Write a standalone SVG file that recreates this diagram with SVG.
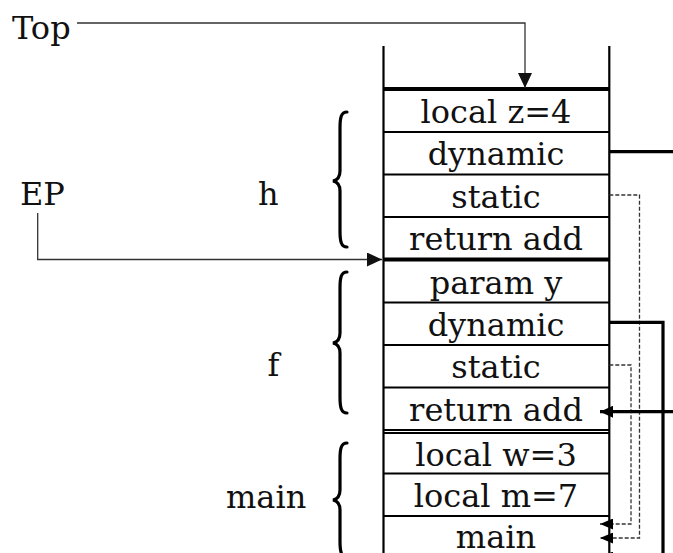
<svg xmlns="http://www.w3.org/2000/svg" width="673" height="553" viewBox="0 0 673 553">
<style>
text{font-family:"DejaVu Serif","Liberation Serif",serif;font-size:32px;fill:#111}
.cell{text-anchor:middle}
.col{stroke:#000;stroke-width:2.2;fill:none}
.thick{stroke:#000;stroke-width:3.8;fill:none}
.thin{stroke:#333;stroke-width:1.3;fill:none}
.dash{stroke:#333;stroke-width:1.3;fill:none;stroke-dasharray:4 2}
.ptr{stroke:#000;stroke-width:3.2;fill:none}
.brace{stroke:#000;stroke-width:3.2;fill:none;stroke-linecap:round}
</style>
<defs>
<marker id="aBig" markerUnits="userSpaceOnUse" markerWidth="16" markerHeight="14" refX="15" refY="7" orient="auto">
<path d="M0,0 L15,7 L0,14 Z" fill="#111"/>
</marker>
<marker id="aThick" markerUnits="userSpaceOnUse" markerWidth="14" markerHeight="12" refX="13" refY="6" orient="auto">
<path d="M0,0 L13,6 L0,12 Z" fill="#000"/>
</marker>
<marker id="aSmall" markerUnits="userSpaceOnUse" markerWidth="14" markerHeight="11" refX="13" refY="5.5" orient="auto">
<path d="M0,0 L13,5.5 L0,11 Z" fill="#000"/>
</marker>
</defs>

<g id="stack">
<line class="col" x1="383.5" y1="46" x2="383.5" y2="553"/>
<line class="col" x1="609.3" y1="46" x2="609.3" y2="553"/>
<line class="thick" x1="383.5" y1="89" x2="609.3" y2="89"/>
<line class="col" x1="383.5" y1="132" x2="609.3" y2="132"/>
<line class="col" x1="383.5" y1="174.5" x2="609.3" y2="174.5"/>
<line class="col" x1="383.5" y1="217" x2="609.3" y2="217"/>
<line class="thick" x1="383.5" y1="259.5" x2="609.3" y2="259.5"/>
<line class="col" x1="383.5" y1="302.5" x2="609.3" y2="302.5"/>
<line class="col" x1="383.5" y1="345" x2="609.3" y2="345"/>
<line class="col" x1="383.5" y1="387.5" x2="609.3" y2="387.5"/>
<line class="col" x1="383.5" y1="430" x2="609.3" y2="430" stroke-width="1.3"/>
<line class="col" x1="383.5" y1="433" x2="609.3" y2="433" stroke-width="1.3"/>
<line class="col" x1="383.5" y1="473.5" x2="609.3" y2="473.5"/>
<line class="col" x1="383.5" y1="516" x2="609.3" y2="516"/>
</g>

<g id="h-frame">
<text class="cell" x="496" y="122.5">local z=4</text>
<text class="cell" x="496" y="165">dynamic</text>
<text class="cell" x="496" y="208">static</text>
<text class="cell" x="496" y="250">return add</text>
</g>
<g id="f-frame">
<text class="cell" x="496" y="294">param y</text>
<text class="cell" x="496" y="335.5">dynamic</text>
<text class="cell" x="496" y="378">static</text>
<text class="cell" x="496" y="420.5">return add</text>
</g>
<g id="main-frame">
<text class="cell" x="496" y="465.5">local w=3</text>
<text class="cell" x="496" y="507">local m=7</text>
<text class="cell" x="496" y="548">main</text>
</g>

<g id="label-top"><text x="12" y="39">Top</text></g>
<g id="label-ep"><text x="20" y="205">EP</text></g>
<g id="label-h"><text x="258" y="205">h</text></g>
<g id="label-f"><text x="273.5" y="376" text-anchor="middle">f</text></g>
<g id="label-main"><text x="226" y="508">main</text></g>

<g id="braces">
<path class="brace" d="M347,112 C341,112 340,118 340,128 L340,171 C340,177 338,180 333,181 C338,182 340,185 340,191 L340,231 C340,241 341,247 347,247"/>
<path class="brace" d="M347,272 C341,272 340,278 340,288 L340,333 C340,339 338,342 333,343 C338,344 340,347 340,353 L340,397 C340,407 341,413 347,413"/>
<path class="brace" d="M347,443 C341,443 340,449 340,459 L340,490 C340,496 338,499 333,500 C338,501 340,504 340,510 L340,541 C340,551 341,557 347,557"/>
</g>

<g id="connectors">
<path class="thin" d="M77,23 H525 V88" marker-end="url(#aBig)"/>
<path class="thin" d="M37.7,213 V259.5 H382" marker-end="url(#aBig)"/>
<path class="ptr" d="M609.3,151.7 H673"/>
<path class="dash" d="M609.3,195 H639.5 V538 H600" marker-end="url(#aSmall)"/>
<path class="dash" d="M609.3,365 H631 V524 H600" marker-end="url(#aSmall)"/>
<path class="ptr" d="M609.3,322.3 H663 V557 H600" marker-end="url(#aSmall)"/>
<path class="ptr" d="M673,411.7 H600" marker-end="url(#aThick)"/>
</g>
</svg>
